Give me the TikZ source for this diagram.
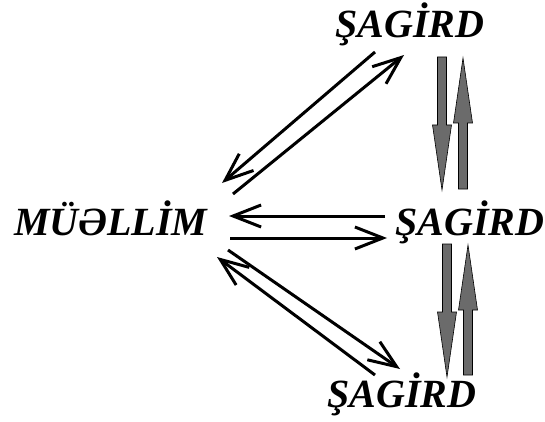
\documentclass[tikz,border=0pt]{standalone}
\usepackage{fontspec}
\setmainfont{Liberation Serif}
\usetikzlibrary{arrows.meta,calc}
\tikzstyle{role}=[font=\fontsize{40}{48}\selectfont\bfseries\itshape,inner sep=0pt,anchor=base west]
\tikzstyle{link}=[draw,line width=3pt,-{Straight Barb[length=28pt,width=22pt,line width=3pt]}]
\tikzstyle{block}=[draw=black,line width=0.6pt,fill=black!58]
\newcommand{\blockarrow}[2]{%
  \coordinate (hb) at ($(#2)!65pt!(#1)$);
  \path[block] ($(#1)!4.5pt!90:(#2)$) -- ($(hb)!4.5pt!90:(#2)$) -- ($(hb)!9.5pt!90:(#2)$)
    -- (#2) -- ($(hb)!9.5pt!-90:(#2)$) -- ($(hb)!4.5pt!-90:(#2)$) -- ($(#1)!4.5pt!-90:(#2)$) -- cycle;}

\begin{document}
\begin{tikzpicture}[x=1pt,y=1pt]
				\useasboundingbox (0,0) rectangle (545,421);
				% First we place the words
				\node[role] (teacher) at (14,186) {MÜƏLLİM};
				\foreach \pos/\name in {{(335,383)/top}, {(395,186)/mid}, {(327,14)/bot}}
				\node[role] (\name) at \pos {ŞAGİRD};

				% Ends of the black arrows
				\foreach \pos/\name in {{(375,369)/u1a}, {(222,238)/u1b}, {(233,227)/u2a}, {(404,366)/u2b},
										{(385,205)/m1a}, {(229,205)/m1b}, {(230,183)/m2a}, {(387,183)/m2b},
										{(228,171)/l1a}, {(400,52)/l1b}, {(375,46)/l2a}, {(217,164)/l2b}}
				\node[coordinate] (\name) at \pos {};

				\foreach \source/ \dest in {u1a/u1b, u2a/u2b, m1a/m1b, m2a/m2b, l1a/l1b, l2a/l2b}
				\path[link] (\source) -- (\dest);

				% Ends of the grey arrows between the pupils
				\foreach \pos/\name in {{(442,364)/g1a}, {(442,231)/g1b}, {(463,232)/g2a}, {(463,363)/g2b},
										{(447,177)/g3a}, {(447,44)/g3b}, {(468,46)/g4a}, {(468,176)/g4b}}
				\node[coordinate] (\name) at \pos {};

				\foreach \source/ \dest in {g1a/g1b, g2a/g2b, g3a/g3b, g4a/g4b}
				{\blockarrow{\source}{\dest}}

			\end{tikzpicture}
\end{document}
